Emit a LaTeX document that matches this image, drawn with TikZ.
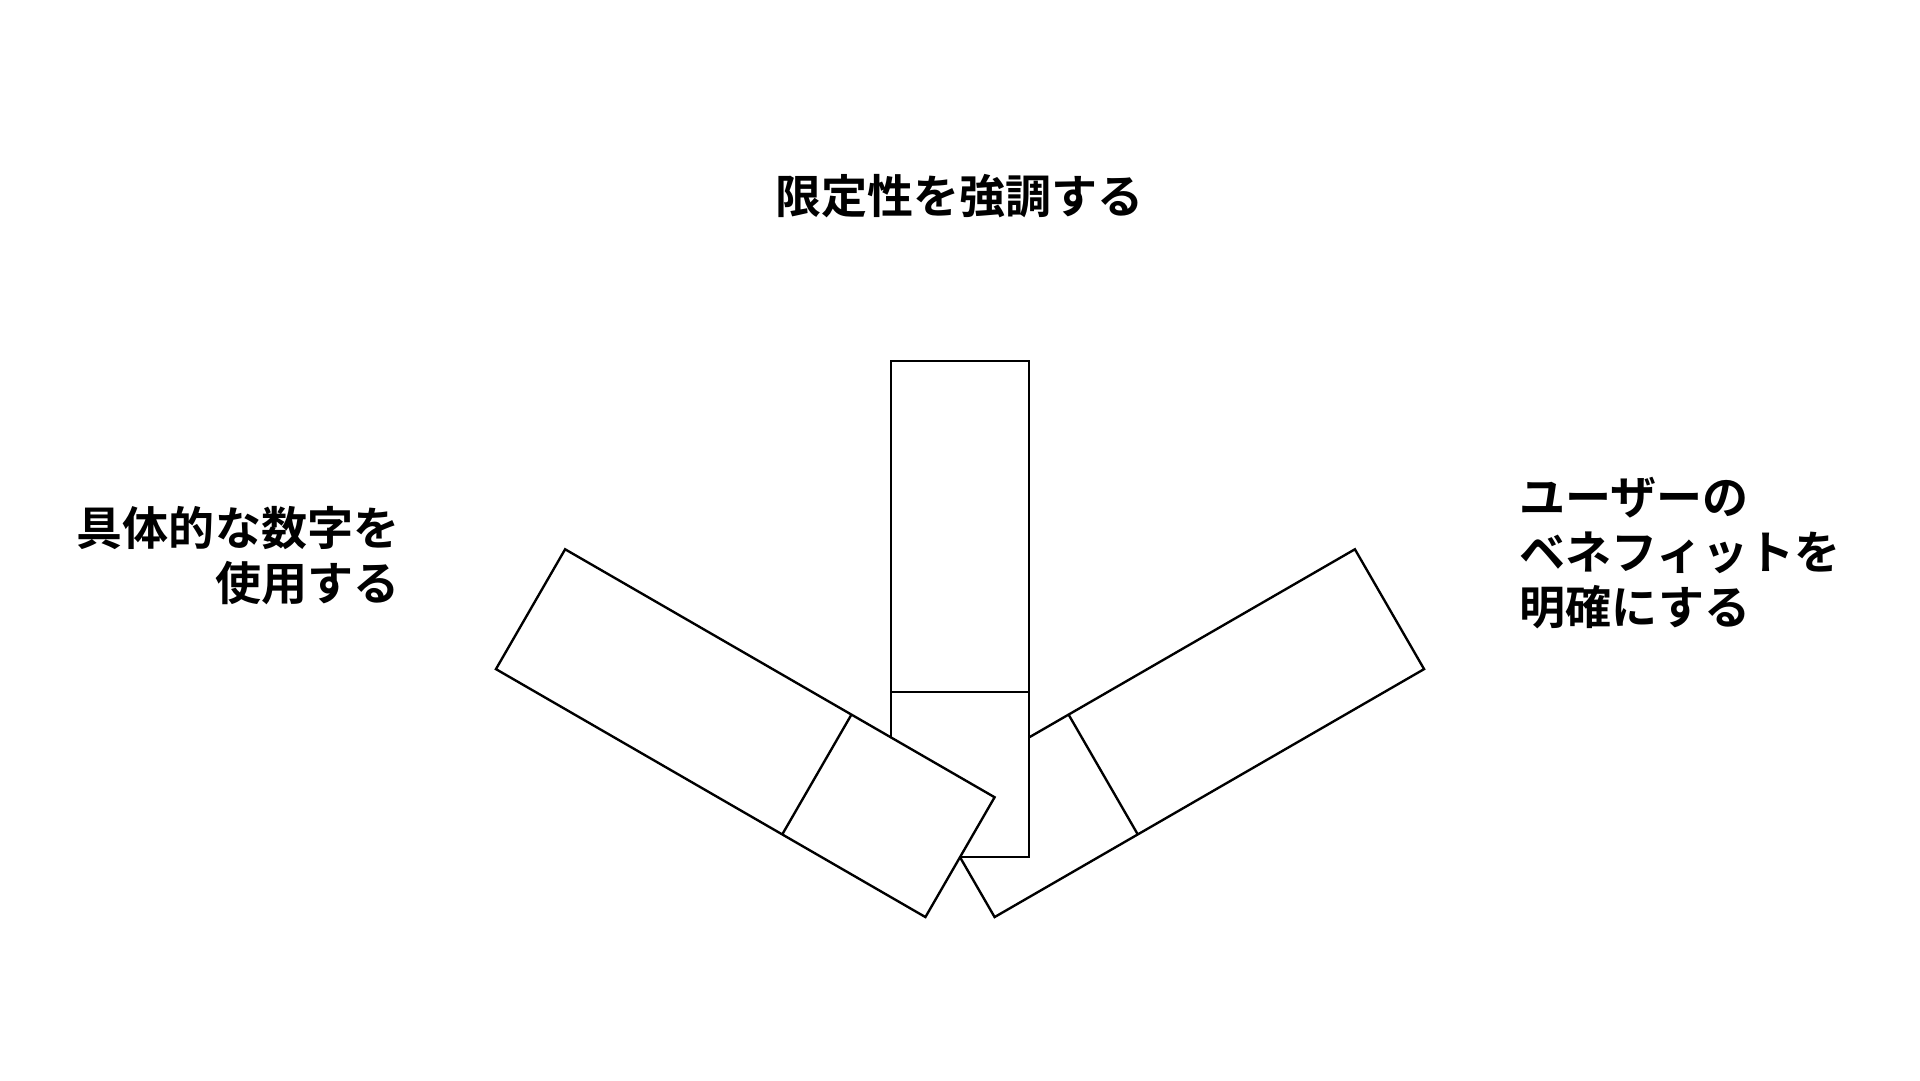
\documentclass[tikz,border=0pt]{standalone}
\usepackage{fontspec}
\newfontfamily\jpfont{Noto Sans CJK JP}[UprightFont=* Bold]
\usetikzlibrary{positioning}
\newcommand\halfwd{.565}
\newcommand\blocklen{4.05}
\newcommand\splitht{1.35}
\newcommand\linewd{.55pt}
\tikzstyle{graph}  = [line width=\linewd]
\tikzstyle{block}  = [graph, draw=black, fill=white]
\tikzstyle{label}  = [font=\jpfont\fontsize{10.7pt}{12.8pt}\selectfont, inner sep=0pt]

\begin{document}
\begin{tikzpicture}[graph]
  \useasboundingbox (0,0) rectangle (15.68,8.82);
  \coordinate (pivot) at (7.84,1.82);
  % three blocks round the pivot, right one first
  \foreach \ang in {-60,0,60}{
    \begin{scope}[shift={(pivot)},rotate=\ang]
      \draw[block] (-\halfwd,0) rectangle (\halfwd,\blocklen);
      \draw (-\halfwd,\splitht) -- (\halfwd,\splitht);
    \end{scope}
  }
  % labels
  \node[label] (limit) at (7.835,7.22) {限定性を強調する};
  \node[label, anchor=east, align=right] (numbers) at (3.27,4.285)
    {具体的な数字を\\使用する};
  \node[label, anchor=west, align=left] (benefit) at (12.40,4.30)
    {ユーザーの\\ベネフィットを\\明確にする};
\end{tikzpicture}
\end{document}
